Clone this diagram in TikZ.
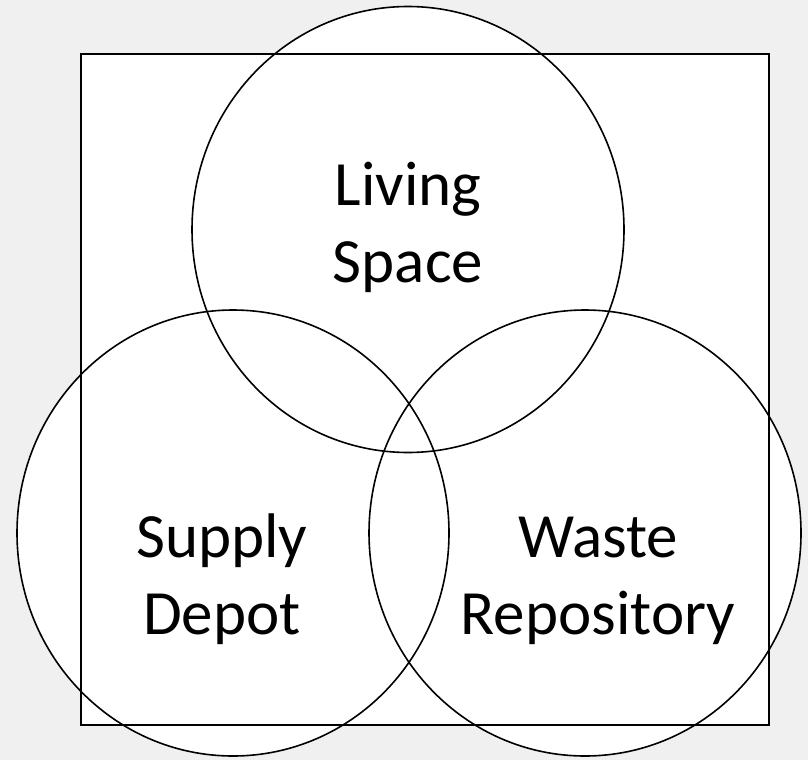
\documentclass[tikz,border=0pt]{standalone}
\usepackage{fontspec}
\setmainfont{Carlito}
\usepackage{tikz}
\usetikzlibrary{positioning}
\usetikzlibrary{calc}
\definecolor{bggray}{HTML}{F0F0F0}

\begin{document}
\begin{tikzpicture}[x=1pt,y=-1pt,
  ring/.style={draw=black,line width=1.6pt},
  word/.style={align=center,font=\fontsize{63}{77}\selectfont,inner sep=0pt}]
\fill[bggray] (0,0) rectangle (808,760);
\useasboundingbox (0,0) rectangle (808,760);
\coordinate (living) at (408,229.5);
\coordinate (supply) at (233,533);
\coordinate (waste) at (585,533);
\coordinate (nw) at (81,54);
\coordinate (se) at (769,725);

% white ground under all shapes
\fill[white] (nw) rectangle (se);
\fill[white] (living) ellipse [x radius=216pt,y radius=223pt];
\fill[white] (supply) ellipse [x radius=216pt,y radius=223pt];
\fill[white] (waste) ellipse [x radius=216pt,y radius=223pt];

\draw[ring] (nw) rectangle (se);
\draw[ring] (living) ellipse [x radius=216pt,y radius=223pt];
\draw[ring] (supply) ellipse [x radius=216pt,y radius=223pt];
\draw[ring] (waste) ellipse [x radius=216pt,y radius=223pt];

\node[word] (t1) at (408,227) {Living\\Space};
\node[word] (t2) at (222,579) {Supply\\Depot};
\node[word] (t3) at (598,581) {Waste\\Repository};
\end{tikzpicture}
\end{document}
